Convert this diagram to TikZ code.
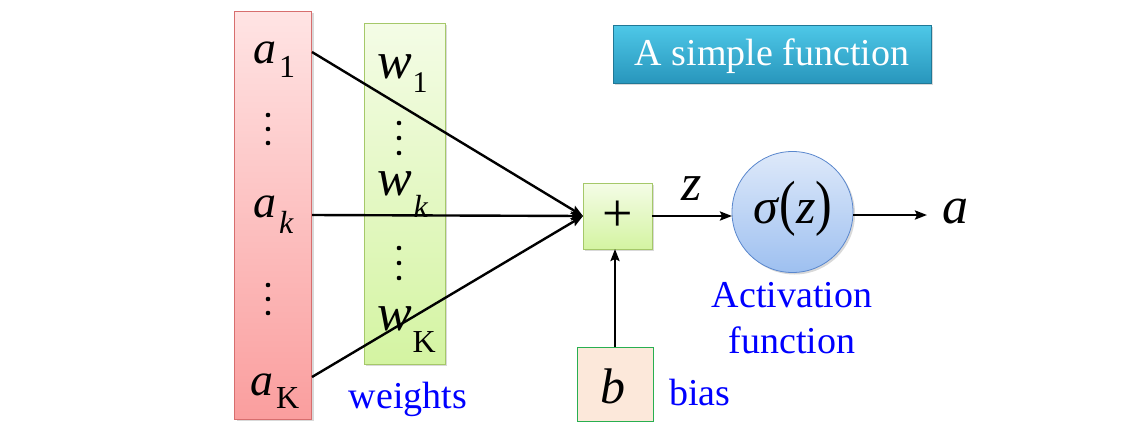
\documentclass[tikz,border=0pt]{standalone}
\usepackage{fontspec}
\setmainfont{Liberation Serif}
\usetikzlibrary{shadows,arrows.meta}
\newcommand{\fsz}[1]{\fontsize{#1}{#1}\selectfont}
\newcommand{\bigparen}[1]{\scalebox{1}[1.22]{#1}}
\definecolor{redtop}{RGB}{255,228,228}
\definecolor{redbot}{RGB}{250,158,158}
\definecolor{redline}{RGB}{215,110,110}
\definecolor{greentop}{RGB}{244,252,230}
\definecolor{greenbot}{RGB}{212,244,162}
\definecolor{greenline}{RGB}{165,200,105}
\definecolor{bluetop}{RGB}{222,233,250}
\definecolor{bluebot}{RGB}{158,192,240}
\definecolor{blueline}{RGB}{90,135,205}
\definecolor{biasfill}{RGB}{252,232,218}
\definecolor{biasline}{RGB}{40,175,80}
\definecolor{titletop}{RGB}{78,200,232}
\definecolor{titlebot}{RGB}{40,150,188}
\begin{document}
\begin{tikzpicture}[x=1pt,y=-1pt,
  every node/.style={inner sep=0pt, outer sep=0pt},
  shad/.style={drop shadow={opacity=0.3, shadow xshift=2pt, shadow yshift=-2pt}},
  conn/.style={line width=2.4pt, -{Stealth[length=12pt,width=9pt,inset=2pt]}},
  bluelbl/.style={font=\fsz{38}, text=blue, align=center},
  mlbl/.style={anchor=base west}
]
\useasboundingbox (0,0) rectangle (1142,434);
% boxes
\node[shad, draw=redline, line width=0.8pt, top color=redtop, bottom color=redbot,
  minimum width=77pt, minimum height=408pt] (abox) at (273,215) {};
\node[shad, draw=greenline, line width=0.8pt, top color=greentop, bottom color=greenbot,
  minimum width=81pt, minimum height=341pt] (wbox) at (404.5,193.5) {};
\node[shad, draw=greenline, line width=0.8pt, top color=greentop, bottom color=greenbot,
  minimum width=69pt, minimum height=66pt] (plus) at (617.5,216) {\fsz{54}+};
\node[draw=biasline, line width=0.8pt, fill=biasfill,
  minimum width=76pt, minimum height=74pt] (b) at (615,384) {};
\node[shad, draw=blueline, line width=0.8pt, top color=bluetop, bottom color=bluebot,
  circle, minimum size=121pt] (sig) at (792.5,212) {};
\node[shad, draw=titlebot!80!black, line width=0.5pt, top color=titletop, bottom color=titlebot,
  minimum width=318pt, minimum height=58pt] (title) at (772,54) {};
\node[font=\fsz{38}, text=white, anchor=base] (titletxt) at (772,65) {A simple function};
% a labels
\node[mlbl] (a1) at (253,63) {\fsz{46}\textit{a}\hspace{3pt}\raisebox{-14pt}{\fsz{32}1}};
\node[mlbl] (ak) at (253,217) {\fsz{46}\textit{a}\hspace{3pt}\raisebox{-16pt}{\fsz{32}\textit{k}}};
\node[mlbl] (aK) at (250,395) {\fsz{46}\textit{a}\hspace{3pt}\raisebox{-13pt}{\fsz{32}K}};
% w labels
\node[mlbl] (w1) at (377,78) {\fsz{52}\textit{w}\hspace{1pt}\raisebox{-14pt}{\fsz{30}1}};
\node[mlbl] (wk) at (377,195) {\fsz{52}\textit{w}\hspace{2pt}\raisebox{-22pt}{\fsz{32}\textit{k}}};
\node[mlbl] (wK) at (377,330) {\fsz{52}\textit{w}\hspace{1pt}\raisebox{-22pt}{\fsz{32}K}};
% dots
\foreach \yy in {115,129,143,285,299,313} \fill (268,\yy) circle (2.3);
\foreach \yy in {123,138,153,248,263,278} \fill (399,\yy) circle (2.3);
% other labels
\node[font=\fsz{52}\itshape, anchor=base] (zlbl) at (692,200) {z};
\node[font=\fsz{50}, anchor=base] (sigtxt) at (793,223)
  {\textit{σ}\bigparen{(}\textit{z}\bigparen{)}};
\node[mlbl] (out) at (942,223) {\fsz{52}\textit{a}};
\node[font=\fsz{50}\itshape, anchor=base] (btxt) at (613,403) {b};
\node[bluelbl, anchor=base] (weights) at (408,408) {weights};
\node[bluelbl, anchor=base] (bias) at (700,405) {bias};
\node[bluelbl, anchor=base] (act1) at (792,307) {Activation};
\node[bluelbl, anchor=base] (act2) at (792,353) {function};
% connectors
\coordinate (s1) at (312,52);
\coordinate (s2) at (312,215);
\coordinate (s3) at (312,377);
\coordinate (t) at (927,215);
\draw[conn] (s1) -- (plus.west);
\draw[conn] (s2) -- (plus.west);
\draw[conn] (s3) -- (plus.west);
\draw[conn] (plus.east) -- (sig.west |- plus.east);
\draw[conn] (sig.east |- t) -- (t);
\draw[conn] (b.north) -- (plus.south -| b.north);
\end{tikzpicture}
\end{document}
